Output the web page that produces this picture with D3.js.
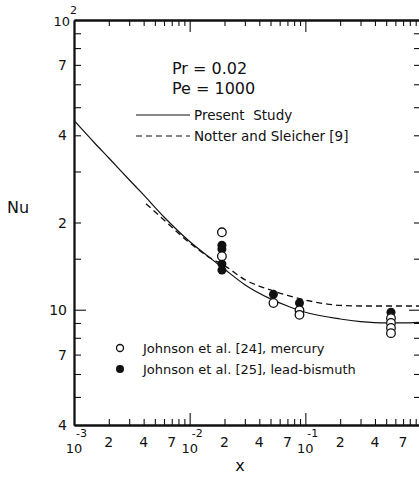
<!DOCTYPE html>
<html>
<head>
<meta charset="utf-8">
<script src="https://cdn.jsdelivr.net/npm/d3@7"></script>
<style>
  body { margin: 0; background: #fff; }
  text { font-family: "DejaVu Sans", sans-serif; fill: #111; }
</style>
</head>
<body>
<svg id="chart" width="419" height="488"></svg>
<script>
// valeurs
var presentX  = [0.001, 0.0015, 0.002, 0.003, 0.004, 0.006, 0.01, 0.015, 0.02, 0.03, 0.05, 0.07, 0.1, 0.2, 0.3, 0.5, 0.7, 1.0];
var presentNu = [45, 37.7, 33.4, 28.1, 24.9, 20.9, 17.2, 15.1, 13.8, 12.2, 10.9, 10.3, 9.8, 9.29, 9.1, 9.0, 9.0, 9.05];

var notterX  = [0.0042, 0.006, 0.01, 0.015, 0.02, 0.03, 0.05, 0.07, 0.1, 0.2, 0.3, 0.5, 1.0];
var notterNu = [23.2, 20.4, 17.0, 15.1, 14.2, 12.7, 11.7, 11.2, 10.8, 10.35, 10.3, 10.3, 10.3];

var mercuryX  = [0.019, 0.019, 0.053, 0.089, 0.089, 0.55, 0.55, 0.55, 0.55];
var mercuryNu = [18.5, 15.3, 10.55, 9.95, 9.6, 9.35, 9.0, 8.65, 8.3];

var leadX  = [0.019, 0.019, 0.019, 0.019, 0.053, 0.089, 0.55];
var leadNu = [16.7, 16.2, 14.4, 13.7, 11.3, 10.55, 9.8];

var xLabelTicks = [0.001, 0.002, 0.004, 0.007, 0.01, 0.02, 0.04, 0.07, 0.1, 0.2, 0.4, 0.7];
var xLabelText  = ["10|-3", "2", "4", "7", "10|-2", "2", "4", "7", "10|-1", "2", "4", "7"];
var yLabelTicks = [100, 70, 40, 20, 10, 7, 4];
var yLabelText  = ["10|2", "7", "4", "2", "10", "7", "4"];
var yMinorTicks = [90, 80, 70, 60, 50, 40, 30, 20, 15, 9, 8, 7, 6, 5];

var svg = d3.select("#chart");

// echelles log-log
var x = d3.scaleLog().domain([0.001, 1]).range([74, 421]);
var y = d3.scaleLog().domain([4, 100]).range([425, 20]);

var xMinor = [];
[0.001, 0.01, 0.1].forEach(function (d) {
  for (var k = 2; k <= 9; k++) xMinor.push(d * k);
});
var xMajor = [0.01, 0.1];

function styleAxis(g) {
  g.select(".domain").attr("stroke", "#111").attr("stroke-width", 1.8);
  g.selectAll(".tick line").attr("stroke", "#111").attr("stroke-width", 1.1);
}

// axe du bas
svg.append("g").attr("transform", "translate(0,425)")
  .call(d3.axisBottom(x).tickValues(xMinor).tickSizeInner(-6).tickSizeOuter(0).tickFormat(""))
  .call(styleAxis);
svg.append("g").attr("transform", "translate(0,425)")
  .call(d3.axisBottom(x).tickValues(xMajor).tickSizeInner(-12).tickSizeOuter(0).tickFormat(""))
  .call(styleAxis);

// axe du haut
svg.append("g").attr("transform", "translate(0,20)")
  .call(d3.axisTop(x).tickValues(xMinor).tickSizeInner(-6).tickSizeOuter(0).tickFormat(""))
  .call(styleAxis);
svg.append("g").attr("transform", "translate(0,20)")
  .call(d3.axisTop(x).tickValues(xMajor).tickSizeInner(-12).tickSizeOuter(0).tickFormat(""))
  .call(styleAxis);

// axes gauche et droite
svg.append("g").attr("transform", "translate(74,0)")
  .call(d3.axisLeft(y).tickValues(yMinorTicks).tickSizeInner(-7).tickSizeOuter(0).tickFormat(""))
  .call(styleAxis);
svg.append("g").attr("transform", "translate(74,0)")
  .call(d3.axisLeft(y).tickValues([10]).tickSizeInner(-12).tickSizeOuter(0).tickFormat(""))
  .call(styleAxis);
svg.append("g").attr("transform", "translate(421,0)")
  .call(d3.axisRight(y).tickValues(yMinorTicks).tickSizeInner(-7).tickSizeOuter(0).tickFormat(""))
  .call(styleAxis);
svg.append("g").attr("transform", "translate(421,0)")
  .call(d3.axisRight(y).tickValues([10]).tickSizeInner(-12).tickSizeOuter(0).tickFormat(""))
  .call(styleAxis);

// etiquettes de l'axe x (avec exposants)
xLabelTicks.forEach(function (d, i) {
  var s = xLabelText[i];
  if (s.indexOf("|") >= 0) {
    var parts = s.split("|");
    svg.append("text").attr("x", x(d)).attr("y", 453).attr("text-anchor", "middle")
      .style("font-size", "13px").text(parts[0]);
    svg.append("text").attr("x", x(d) + 2).attr("y", 437).attr("text-anchor", "start")
      .style("font-size", "11px").text(parts[1]);
  } else {
    svg.append("text").attr("x", x(d)).attr("y", 447).attr("text-anchor", "middle")
      .style("font-size", "14px").text(s);
  }
});

// etiquettes de l'axe y
yLabelTicks.forEach(function (d, i) {
  var s = yLabelText[i];
  if (s.indexOf("|") >= 0) {
    var parts = s.split("|");
    svg.append("text").attr("x", 70).attr("y", y(d) + 6).attr("text-anchor", "end")
      .style("font-size", "13px").text(parts[0]);
    svg.append("text").attr("x", 70).attr("y", y(d) - 6).attr("text-anchor", "start")
      .style("font-size", "11px").text(parts[1]);
  } else {
    svg.append("text").attr("x", 67).attr("y", y(d) + 5).attr("text-anchor", "end")
      .style("font-size", "14px").text(s);
  }
});

// titres des axes
svg.append("text").attr("x", 18).attr("y", 213).attr("text-anchor", "middle")
  .style("font-size", "16px").text("Nu");
svg.append("text").attr("x", 240).attr("y", 471).attr("text-anchor", "middle")
  .style("font-size", "16px").text("x");

// courbes
var line = d3.line()
  .x(function (d) { return x(d[0]); })
  .y(function (d) { return y(d[1]); })
  .curve(d3.curveMonotoneX);

svg.append("path")
  .datum(d3.zip(presentX, presentNu))
  .attr("d", line)
  .attr("fill", "none").attr("stroke", "#111").attr("stroke-width", 1.2);

svg.append("path")
  .datum(d3.zip(notterX, notterNu))
  .attr("d", line)
  .attr("fill", "none").attr("stroke", "#111").attr("stroke-width", 1.3)
  .attr("stroke-dasharray", "6,4");

// points
svg.selectAll(".lead")
  .data(d3.zip(leadX, leadNu))
  .enter().append("circle")
  .attr("class", "lead")
  .attr("cx", function (d) { return x(d[0]); })
  .attr("cy", function (d) { return y(d[1]); })
  .attr("r", 4.5)
  .attr("fill", "#111");

svg.selectAll(".mercury")
  .data(d3.zip(mercuryX, mercuryNu))
  .enter().append("circle")
  .attr("class", "mercury")
  .attr("cx", function (d) { return x(d[0]); })
  .attr("cy", function (d) { return y(d[1]); })
  .attr("r", 4.3)
  .attr("fill", "#fff").attr("stroke", "#111").attr("stroke-width", 1.3);

// annotations
svg.append("text").attr("x", 172).attr("y", 74).style("font-size", "16px").text("Pr = 0.02");
svg.append("text").attr("x", 172).attr("y", 94).style("font-size", "16px").text("Pe = 1000");

// legende des courbes
svg.append("line").attr("x1", 136).attr("x2", 190).attr("y1", 115).attr("y2", 115)
  .attr("stroke", "#111").attr("stroke-width", 1.1);
svg.append("text").attr("x", 194).attr("y", 120).style("font-size", "13.5px")
  .attr("xml:space", "preserve").text("Present  Study");
svg.append("line").attr("x1", 136).attr("x2", 190).attr("y1", 136).attr("y2", 136)
  .attr("stroke", "#111").attr("stroke-width", 1.1).attr("stroke-dasharray", "6,4");
svg.append("text").attr("x", 194).attr("y", 141).style("font-size", "13.5px").text("Notter and Sleicher [9]");

// legende des points
svg.append("circle").attr("cx", 120).attr("cy", 348).attr("r", 3.5)
  .attr("fill", "#fff").attr("stroke", "#111").attr("stroke-width", 1.3);
svg.append("text").attr("x", 143).attr("y", 353).style("font-size", "13px").text("Johnson et al. [24], mercury");
svg.append("circle").attr("cx", 120).attr("cy", 369).attr("r", 4).attr("fill", "#111");
svg.append("text").attr("x", 143).attr("y", 374).style("font-size", "13px").text("Johnson et al. [25], lead-bismuth");
</script>
</body>
</html>
